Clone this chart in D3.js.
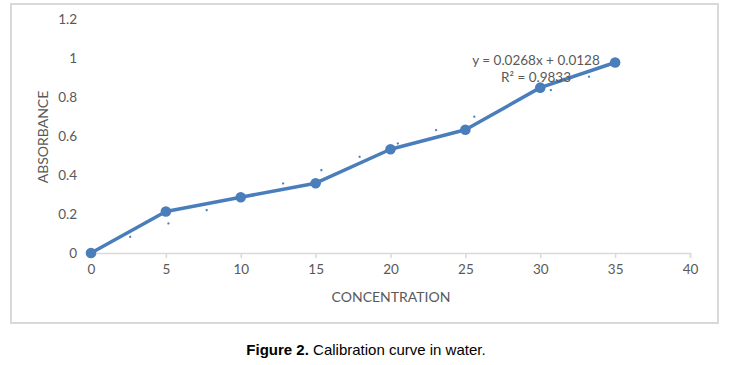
<!DOCTYPE html>
<html><head><meta charset="utf-8">
<script src="https://cdn.jsdelivr.net/npm/d3@7"></script>
<style>body{margin:0;background:#fff;}svg{display:block;}</style>
</head><body>
<script>
const concentration = [0, 5, 10, 15, 20, 25, 30, 35];
const absorbance = [0, 0.213, 0.286, 0.358, 0.532, 0.632, 0.848, 0.977];
const trendX = [0, 35];
const trendY = [0.0128, 0.9508];
const xTicks = [0, 5, 10, 15, 20, 25, 30, 35, 40];
const yTicks = [0, 0.2, 0.4, 0.6, 0.8, 1, 1.2];
const equationLines = ["y = 0.0268x + 0.0128", "R² = 0.9833"];

const W = 734, H = 365;
const svg = d3.select("body").append("svg").attr("width", W).attr("height", H);
const font = "Lato, 'Open Sans', sans-serif";
const blue = "#4a7ebb";

svg.append("rect").attr("x", 11).attr("y", 4).attr("width", 707).attr("height", 319)
  .attr("fill", "#fff").attr("stroke", "#d9d9d9").attr("stroke-width", 2);

const x = d3.scaleLinear().domain([0, 40]).range([91, 690]);
const y = d3.scaleLinear().domain([0, 1.2]).range([253, 19]);

// x axis
const xa = svg.append("g").attr("transform", "translate(0,253)")
  .call(d3.axisBottom(x).tickValues(xTicks).tickSize(5).tickPadding(6).tickFormat(d3.format("d")));
xa.select(".domain").attr("stroke", "#d9d9d9").attr("stroke-width", 1.5);
xa.selectAll(".tick line").attr("stroke", "#d9d9d9").attr("stroke-width", 1.5);
xa.selectAll("text").attr("fill", "#595959").attr("font-size", 13.5).attr("font-family", font);

// y axis (labels only)
const ya = svg.append("g").attr("transform", "translate(91,0)")
  .call(d3.axisLeft(y).tickValues(yTicks).tickSize(0).tickPadding(14).tickFormat(d => String(+d.toFixed(1))));
ya.select(".domain").remove();
ya.selectAll("text").attr("fill", "#595959").attr("font-size", 13.5).attr("font-family", font);

// axis titles
svg.append("text").attr("x", 391).attr("y", 302).attr("text-anchor", "middle")
  .attr("fill", "#595959").attr("font-size", 14).attr("font-family", font).text("CONCENTRATION");
svg.append("text").attr("transform", "translate(48,137) rotate(-90)").attr("text-anchor", "middle")
  .attr("fill", "#595959").attr("font-size", 14).attr("font-family", font).text("ABSORBANCE");

// trendline (dotted)
svg.append("line")
  .attr("x1", x(trendX[0])).attr("y1", y(trendY[0]))
  .attr("x2", x(trendX[1])).attr("y2", y(trendY[1]))
  .attr("stroke", blue).attr("stroke-width", 2).attr("stroke-dasharray", "2 38.5");

// data line
const pts = concentration.map((c, i) => [c, absorbance[i]]);
svg.append("path").datum(pts)
  .attr("d", d3.line().x(d => x(d[0])).y(d => y(d[1])))
  .attr("fill", "none").attr("stroke", blue).attr("stroke-width", 3.5).attr("stroke-linejoin", "round");
svg.selectAll("circle.pt").data(pts).enter().append("circle")
  .attr("cx", d => x(d[0])).attr("cy", d => y(d[1])).attr("r", 5.3).attr("fill", blue);

// equation
svg.selectAll("text.eq").data(equationLines).enter().append("text")
  .attr("x", 536).attr("y", (d, i) => 65 + i * 17).attr("text-anchor", "middle")
  .attr("fill", "#595959").attr("font-size", 13.5).attr("font-family", font).text(d => d);

// caption
const cap = svg.append("text").attr("x", 366).attr("y", 355).attr("text-anchor", "middle")
  .attr("font-size", 15).attr("font-family", "'Liberation Sans', Arial, sans-serif").attr("fill", "#000");
cap.append("tspan").attr("font-weight", "bold").text("Figure 2.");
cap.append("tspan").text(" Calibration curve in water.");
</script>
</body></html>
